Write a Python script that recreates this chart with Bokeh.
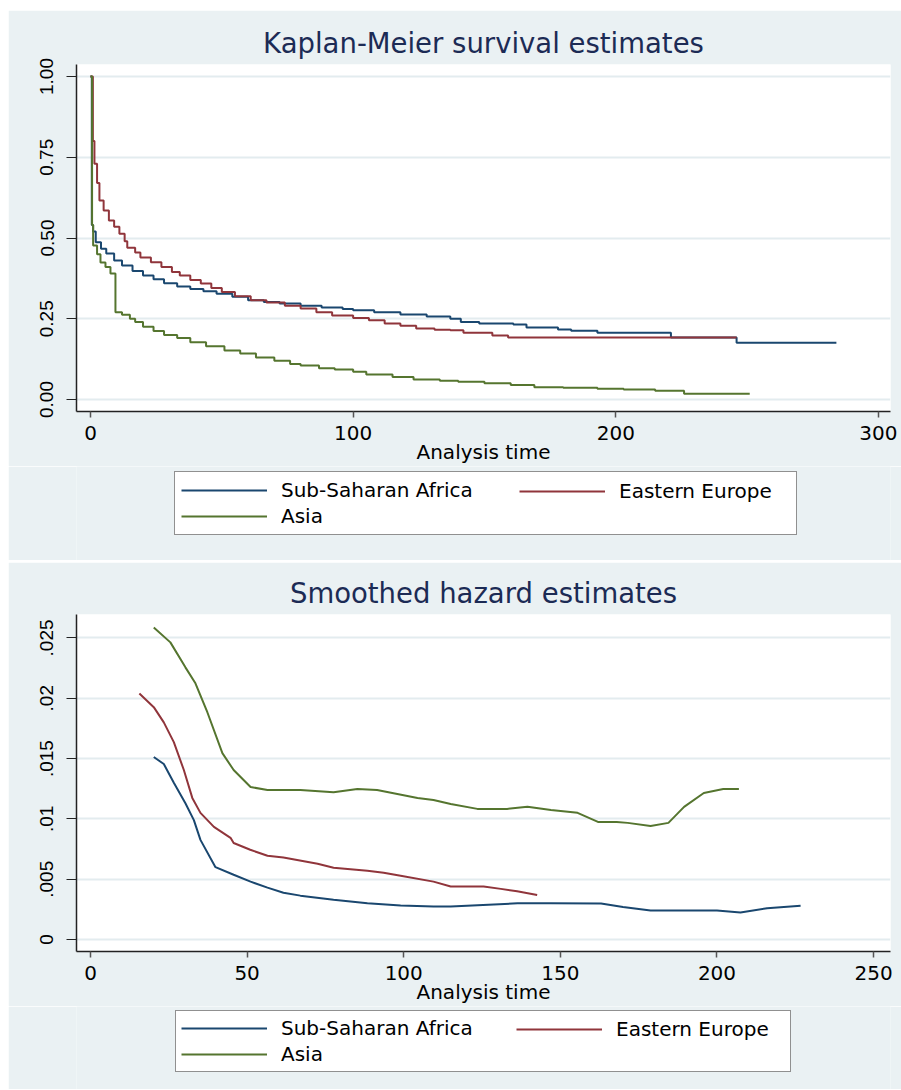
import numpy as np
from bokeh.plotting import figure
from bokeh.models import Range1d, FixedTicker, Legend, LegendItem, ColumnDataSource
from bokeh.layouts import column
from bokeh.embed import file_html
from bokeh.resources import INLINE

# ---------------- data ----------------
series_names = ["Sub-Saharan Africa", "Eastern Europe", "Asia"]
series_colors = ["#1a476f", "#90353b", "#55752f"]

# Kaplan-Meier step data (time, survival)
km_ssa_t = [0, 0.5, 1, 2, 4, 6, 9, 12, 16, 20, 24, 28, 33, 38, 43, 48, 54, 60, 66, 72, 80, 88, 96, 100,
            108, 118, 128, 137, 141, 148, 161, 166, 178, 183, 193, 221, 246, 284]
km_ssa_s = [1.0, 0.54, 0.52, 0.487, 0.467, 0.452, 0.43, 0.415, 0.398, 0.384, 0.372, 0.36, 0.35, 0.342,
            0.335, 0.327, 0.318, 0.307, 0.302, 0.297, 0.29, 0.285, 0.28, 0.276, 0.27, 0.263, 0.257, 0.25,
            0.24, 0.235, 0.232, 0.223, 0.217, 0.213, 0.207, 0.192, 0.176, 0.176]

km_ee_t = [0, 0.9, 1.5, 2.5, 3.4, 5, 7, 9, 11, 13, 14, 17, 19, 23, 27, 31, 34, 38, 42, 46, 50, 55, 61, 67,
           74, 80, 86, 92, 100, 106, 112, 118, 124, 131, 137, 142, 153, 159, 246]
km_ee_s = [1.0, 0.80, 0.73, 0.67, 0.616, 0.585, 0.554, 0.535, 0.513, 0.49, 0.47, 0.455, 0.44, 0.425,
           0.41, 0.395, 0.384, 0.37, 0.359, 0.345, 0.333, 0.32, 0.307, 0.30, 0.29, 0.282, 0.27, 0.26,
           0.252, 0.245, 0.235, 0.228, 0.22, 0.216, 0.214, 0.207, 0.198, 0.192, 0.192]

km_asia_t = [0, 0.6, 1, 2.5, 3.8, 5.7, 7.6, 9.5, 12, 15, 17, 20, 24, 28, 33, 38, 44, 51, 57, 63, 70, 76,
             80, 87, 93, 100, 105, 115, 123, 133, 140, 150, 160, 169, 180, 193, 203, 215, 226, 251]
km_asia_s = [1.0, 0.54, 0.477, 0.45, 0.424, 0.41, 0.39, 0.27, 0.262, 0.25, 0.24, 0.225, 0.212, 0.2,
             0.19, 0.177, 0.165, 0.152, 0.142, 0.13, 0.12, 0.11, 0.105, 0.097, 0.093, 0.086, 0.077,
             0.07, 0.062, 0.058, 0.055, 0.05, 0.045, 0.038, 0.036, 0.033, 0.031, 0.027, 0.018, 0.018]

# Smoothed hazard data (time, hazard)
hz_ssa_t = [20.2, 23.4, 26.6, 30.3, 33, 35.1, 39.9, 45.7, 51.1, 56.5, 61.6, 67, 77.6, 88.4, 99, 109.5,
            115, 136.3, 147, 163, 170, 178.8, 200, 207.5, 216, 226.7]
hz_ssa_h = [0.01513, 0.01455, 0.013, 0.0113, 0.0099, 0.00826, 0.006, 0.00537, 0.0048, 0.0043, 0.00388,
            0.00364, 0.0033, 0.0030, 0.00283, 0.00273, 0.00273, 0.003, 0.003, 0.00298, 0.0027, 0.0024,
            0.0024, 0.00225, 0.0026, 0.0028]

hz_ee_t = [15.6, 20.2, 23.4, 26.6, 29.8, 32.5, 35.1, 39.4, 44.7, 45.7, 51, 56.5, 61.6, 72.5, 77.6, 88.4,
           93.6, 99, 109.5, 115, 125.5, 131, 136.2, 142.6]
hz_ee_h = [0.0204, 0.01926, 0.018, 0.01636, 0.01405, 0.01174, 0.0105, 0.00934, 0.00843, 0.008, 0.00744,
           0.00694, 0.0068, 0.00628, 0.00595, 0.0057, 0.00553, 0.00529, 0.0048, 0.0044, 0.0044, 0.0042,
           0.004, 0.0037]

hz_asia_t = [20.2, 25.5, 30.3, 33.5, 37.3, 42.1, 45.7, 51.1, 56.5, 67, 77.6, 85.2, 91.5, 104.4, 109.5,
             115, 123.5, 133, 139.5, 147, 155.5, 162, 168, 171.5, 178.8, 184.5, 189.5, 195.8, 202, 207]
hz_asia_h = [0.02587, 0.02463, 0.02256, 0.02124, 0.01884, 0.01545, 0.01405, 0.01264, 0.0124, 0.0124,
             0.0122, 0.01248, 0.0124, 0.01174, 0.01157, 0.01124, 0.01083, 0.01083, 0.0110, 0.01074,
             0.0105, 0.00975, 0.00975, 0.00967, 0.00942, 0.00967, 0.0110, 0.01215, 0.01248, 0.01248]

km_ticks_x = [0, 100, 200, 300]
km_ticks_y = [0, 0.25, 0.5, 0.75, 1.0]
km_labels_y = ["0.00", "0.25", "0.50", "0.75", "1.00"]
hz_ticks_x = [0, 50, 100, 150, 200, 250]
hz_ticks_y = [0, 0.005, 0.01, 0.015, 0.02, 0.025]
hz_labels_y = ["0", ".005", ".01", ".015", ".02", ".025"]

# ---------------- style ----------------
BG = "#eaf1f3"
GRID = "#e3ecef"
TITLE_C = "#1c2b55"
HFONT = "DejaVu Sans"
VFONT = "Liberation Sans"
W = 893
BL = 68   # left border (frames are aligned within the column)
BR = 11   # right border


def style(p, title, xt, yt, ylabels):
    p.title.text = title
    p.title.align = "center"
    p.title.text_font = HFONT
    p.title.text_font_size = "27.5px"
    p.title.text_font_style = "normal"
    p.title.text_color = TITLE_C
    p.title.standoff = 11
    p.border_fill_color = BG
    p.background_fill_color = "white"
    p.outline_line_color = None
    p.xgrid.visible = False
    p.ygrid.grid_line_color = GRID
    p.ygrid.grid_line_width = 2
    p.xaxis.ticker = FixedTicker(ticks=xt)
    p.yaxis.ticker = FixedTicker(ticks=yt)
    p.yaxis.major_label_overrides = {t: l for t, l in zip(yt, ylabels)}
    p.xaxis.axis_label = "Analysis time"
    for ax in (p.xaxis, p.yaxis):
        ax.axis_line_color = "#222222"
        ax.axis_line_width = 1.5
        ax.minor_tick_line_color = None
        ax.major_tick_in = 0
        ax.major_label_text_color = "black"
        ax.axis_label_text_color = "black"
        ax.axis_label_text_font_style = "normal"
    p.xaxis.major_tick_out = 6
    p.xaxis.major_tick_line_color = "#555555"
    p.xaxis.major_tick_line_width = 1.5
    p.xaxis.major_label_text_font = HFONT
    p.xaxis.major_label_text_font_size = "20px"
    p.xaxis.major_label_standoff = 8
    p.xaxis.axis_label_text_font = HFONT
    p.xaxis.axis_label_text_font_size = "20px"
    p.xaxis.axis_label_standoff = -3
    p.yaxis.major_tick_out = 10
    p.yaxis.major_tick_line_color = "#222222"
    p.yaxis.major_label_orientation = "vertical"
    p.yaxis.major_label_text_font = VFONT
    p.yaxis.major_label_text_font_size = "19px"
    p.yaxis.major_label_standoff = 13


def legend_fig(height, pad, spacing, a_loc, b_loc, label_w):
    lf = figure(width=W, height=height, output_backend="svg", toolbar_location=None,
                x_range=Range1d(0, 1), y_range=Range1d(0, 1),
                x_axis_location=None, y_axis_location=None,
                min_border_left=BL, min_border_right=BR,
                min_border_top=0, min_border_bottom=0)
    lf.grid.visible = False
    lf.outline_line_color = None
    lf.border_fill_color = BG
    lf.background_fill_color = BG
    # key-only renderers (no visible data; they only supply the legend line samples)
    rs = [lf.line(x=np.array([np.nan]), y=np.array([np.nan]), line_color=c, line_width=2)
          for c in series_colors]

    def mk(items, loc, bordered):
        lg = Legend(items=items, orientation="vertical", location=loc)
        lg.label_text_font = HFONT
        lg.label_text_font_size = "20px"
        lg.label_text_color = "black"
        lg.label_standoff = 14
        lg.glyph_width = 86
        lg.glyph_height = 20
        lg.spacing = spacing
        lg.padding = pad
        lg.margin = 0
        if bordered:
            lg.border_line_color = "#222222"
            lg.border_line_width = 1
            lg.background_fill_color = "white"
            lg.background_fill_alpha = 1
            lg.label_width = label_w
        else:
            lg.border_line_color = None
            lg.background_fill_alpha = 0
        return lg

    # left column (with the common box) and right column drawn on top of it
    left = mk([LegendItem(label=series_names[0], renderers=[rs[0]]),
               LegendItem(label=series_names[2], renderers=[rs[2]])], a_loc, True)
    right = mk([LegendItem(label=series_names[1], renderers=[rs[1]])], b_loc, False)
    lf.add_layout(left)
    lf.add_layout(right)
    return lf


# ---------------- top: Kaplan-Meier ----------------
p1 = figure(width=W, height=456, output_backend="svg", toolbar_location=None,
            x_range=Range1d(-5.33, 304.6), y_range=Range1d(-0.0372, 1.0372),
            min_border_left=BL, min_border_right=BR, min_border_top=54, min_border_bottom=55)
style(p1, "Kaplan-Meier survival estimates", km_ticks_x, km_ticks_y, km_labels_y)
for (t, s), c in zip([(km_ssa_t, km_ssa_s), (km_ee_t, km_ee_s), (km_asia_t, km_asia_s)], series_colors):
    src = ColumnDataSource(dict(t=t, s=s))
    p1.step("t", "s", source=src, mode="after", line_color=c, line_width=2)
l1 = legend_fig(94, 6, 2, (98, 25), (443, 57), 509)

# ---------------- bottom: smoothed hazard ----------------
p2 = figure(width=W, height=444, output_backend="svg", toolbar_location=None,
            x_range=Range1d(-4.47, 255.4), y_range=Range1d(-0.00099, 0.02694),
            min_border_left=BL, min_border_right=BR, min_border_top=52, min_border_bottom=54)
style(p2, "Smoothed hazard estimates", hz_ticks_x, hz_ticks_y, hz_labels_y)
for (t, h), c in zip([(hz_ssa_t, hz_ssa_h), (hz_ee_t, hz_ee_h), (hz_asia_t, hz_asia_h)], series_colors):
    src = ColumnDataSource(dict(t=t, h=h))
    p2.line("t", "h", source=src, line_color=c, line_width=2)
l2 = legend_fig(83, 5, 2, (99, 17), (440, 48), 504)

p2.margin = (2, 0, 0, 0)
layout = column(p1, l1, p2, l2, spacing=0, margin=(10, 0, 0, 8))
open("out.html", "w").write(file_html(layout, INLINE))
